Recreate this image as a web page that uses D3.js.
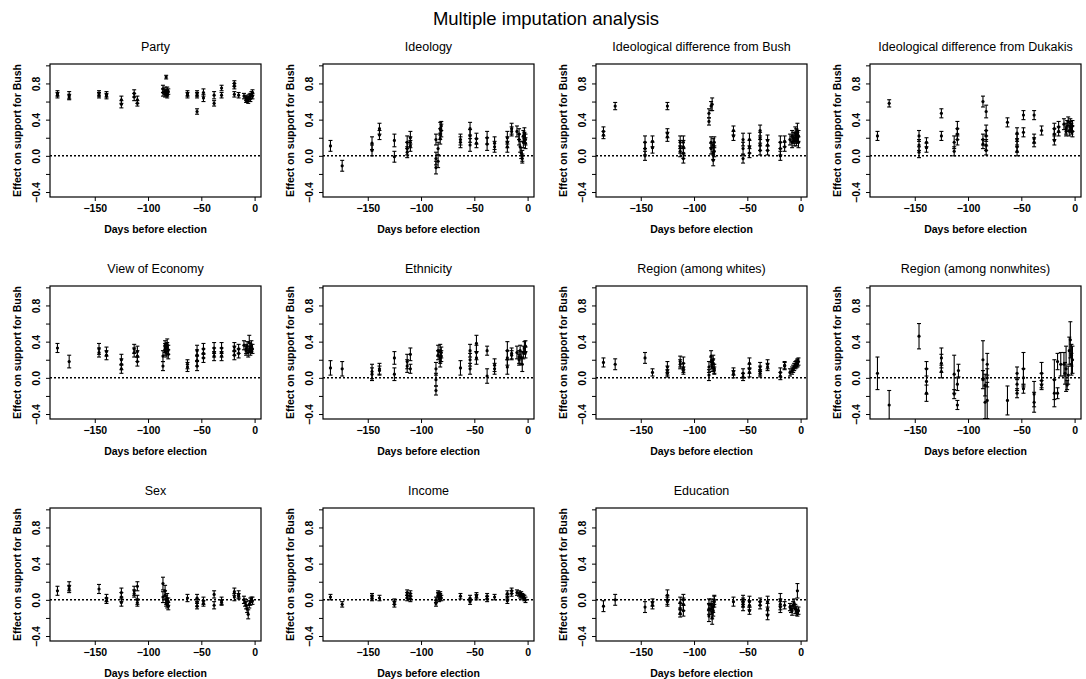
<!DOCTYPE html>
<html>
<head>
<meta charset="utf-8">
<script src="https://cdn.jsdelivr.net/npm/d3@7"></script>
<style>
  html, body { margin: 0; padding: 0; background: #fff; }
  svg { display: block; font-family: "Liberation Sans", Arial, Helvetica, sans-serif; }
</style>
</head>
<body>
<svg id="chart" width="1086" height="679"></svg>
<script>
// ---------------- DATA ----------------
const mainTitle = "Multiple imputation analysis";
const panelTitles = ["Party", "Ideology", "Ideological difference from Bush", "Ideological difference from Dukakis",
  "View of Economy", "Ethnicity", "Region (among whites)", "Region (among nonwhites)",
  "Sex", "Income", "Education"];
const xLabel = "Days before election";
const yLabel = "Effect on support for Bush";
const xTicks = [-150, -100, -50, 0];
const yTicks = [-0.4, 0.0, 0.4, 0.8];
const yMinorTicks = [-0.4, -0.2, 0.0, 0.2, 0.4, 0.6, 0.8, 1.0];

// each entry: [days before election, estimate, half-width of interval]
const party = [
[-185,0.69,0.03],[-185,0.67,0.03],[-174,0.67,0.04],[-174,0.65,0.03],
[-146,0.69,0.03],[-146,0.67,0.03],[-139,0.68,0.03],[-139,0.66,0.03],
[-125,0.62,0.04],[-125,0.57,0.04],[-113,0.69,0.04],[-113,0.65,0.04],
[-110,0.62,0.04],[-110,0.58,0.03],[-86,0.74,0.04],[-86,0.70,0.04],
[-84,0.72,0.04],[-84,0.68,0.03],[-83,0.87,0.02],[-82,0.73,0.03],[-82,0.69,0.03],[-82,0.67,0.03],[-81,0.71,0.03],
[-63,0.69,0.03],[-63,0.67,0.03],[-54,0.69,0.03],[-54,0.67,0.03],[-54,0.49,0.03],
[-48,0.70,0.04],[-48,0.64,0.04],[-38,0.67,0.04],[-38,0.58,0.03],
[-31,0.75,0.03],[-31,0.67,0.03],[-19,0.80,0.03],[-19,0.77,0.03],[-19,0.68,0.03],[-15,0.67,0.03],
[-10,0.66,0.03],[-8,0.64,0.03],[-8,0.62,0.03],[-7,0.63,0.03],[-6,0.61,0.03],[-5,0.65,0.03],
[-4,0.66,0.03],[-4,0.63,0.03],[-3,0.68,0.03],[-2,0.70,0.03],[-2,0.66,0.03]];

const ideology = [
[-185,0.11,0.06],[-174,-0.11,0.06],[-146,0.14,0.07],[-146,0.06,0.06],
[-139,0.30,0.06],[-139,0.23,0.05],[-125,0.17,0.07],[-125,-0.01,0.06],
[-113,0.15,0.07],[-113,0.08,0.07],[-113,0.04,0.06],[-110,0.20,0.07],[-110,0.15,0.06],[-110,0.11,0.06],
[-86,0.18,0.06],[-86,-0.03,0.07],[-86,-0.13,0.07],[-84,0.08,0.07],[-84,-0.06,0.07],
[-82,0.30,0.07],[-82,0.24,0.06],[-82,0.19,0.06],[-81,0.28,0.07],[-81,0.33,0.05],
[-63,0.18,0.06],[-63,0.15,0.06],[-54,0.30,0.07],[-54,0.22,0.07],[-54,0.12,0.07],
[-48,0.19,0.06],[-48,0.14,0.05],[-38,0.20,0.07],[-38,0.13,0.07],[-31,0.14,0.07],[-31,0.10,0.06],
[-19,0.20,0.07],[-19,0.15,0.06],[-19,0.10,0.06],[-15,0.30,0.06],[-15,0.27,0.05],
[-10,0.27,0.06],[-8,0.24,0.06],[-8,0.18,0.06],[-7,0.10,0.06],[-6,0.03,0.06],[-5,0.00,0.06],[-5,-0.03,0.05],
[-4,0.15,0.06],[-4,0.22,0.06],[-3,0.20,0.06],[-3,0.25,0.06],[-2,0.18,0.06],[-2,0.14,0.06]];

const bushDiff = [
[-185,0.27,0.05],[-185,0.23,0.04],[-174,0.55,0.04],
[-146,0.15,0.07],[-146,0.08,0.07],[-146,0.00,0.05],[-139,0.16,0.06],[-139,0.09,0.06],
[-125,0.55,0.04],[-125,0.25,0.05],[-125,0.21,0.05],
[-113,0.15,0.07],[-113,0.10,0.07],[-113,0.05,0.06],[-110,0.15,0.07],[-110,0.10,0.07],[-110,0.03,0.06],[-110,-0.03,0.05],
[-86,0.47,0.05],[-86,0.38,0.04],[-84,0.55,0.05],[-83,0.57,0.07],[-84,0.15,0.06],[-84,0.08,0.06],
[-82,0.12,0.07],[-82,0.03,0.07],[-82,-0.05,0.06],[-81,0.15,0.06],[-81,0.05,0.06],
[-63,0.28,0.05],[-63,0.22,0.05],[-54,0.18,0.07],[-54,0.08,0.07],[-54,-0.03,0.05],
[-48,0.18,0.07],[-48,0.10,0.07],[-48,0.03,0.05],[-38,0.28,0.06],[-38,0.20,0.06],[-38,0.12,0.06],[-38,0.06,0.05],
[-31,0.17,0.06],[-31,0.12,0.06],[-31,0.06,0.05],[-19,0.15,0.07],[-19,0.08,0.07],[-19,0.00,0.05],
[-15,0.16,0.06],[-15,0.10,0.05],[-10,0.18,0.06],[-8,0.22,0.06],[-8,0.15,0.06],[-7,0.20,0.06],[-6,0.17,0.06],
[-5,0.25,0.07],[-5,0.20,0.06],[-4,0.23,0.07],[-4,0.17,0.06],[-3,0.28,0.08],[-3,0.20,0.06],[-2,0.22,0.06],[-2,0.15,0.06]];

const dukakisDiff = [
[-185,0.22,0.05],[-174,0.58,0.04],[-146,0.22,0.06],[-146,0.12,0.06],[-146,0.04,0.06],
[-139,0.15,0.05],[-139,0.09,0.05],[-125,0.47,0.05],[-125,0.22,0.05],
[-113,0.15,0.07],[-113,0.05,0.05],[-110,0.30,0.08],[-110,0.24,0.06],[-110,0.18,0.06],
[-86,0.60,0.06],[-86,0.18,0.06],[-86,0.13,0.05],
[-83,0.49,0.07],[-83,0.28,0.06],[-83,0.22,0.06],[-83,0.12,0.06],[-83,0.06,0.05],
[-63,0.37,0.05],[-54,0.25,0.06],[-54,0.18,0.06],[-54,0.10,0.06],[-54,0.05,0.05],
[-48,0.45,0.05],[-48,0.26,0.05],[-38,0.45,0.05],[-38,0.19,0.05],[-38,0.15,0.05],[-31,0.28,0.05],
[-19,0.30,0.06],[-19,0.24,0.06],[-19,0.17,0.05],[-15,0.32,0.06],[-15,0.27,0.05],
[-10,0.35,0.06],[-8,0.30,0.06],[-8,0.27,0.05],[-7,0.33,0.06],[-6,0.38,0.05],[-5,0.28,0.06],
[-4,0.32,0.06],[-4,0.36,0.05],[-3,0.30,0.06],[-2,0.33,0.06],[-2,0.27,0.06]];

const economy = [
[-185,0.33,0.05],[-174,0.18,0.07],[-146,0.32,0.06],[-146,0.28,0.05],[-139,0.29,0.05],[-139,0.25,0.05],
[-125,0.20,0.06],[-125,0.15,0.06],[-125,0.10,0.05],[-113,0.32,0.05],[-113,0.28,0.05],
[-110,0.29,0.06],[-110,0.24,0.06],[-110,0.18,0.05],[-86,0.24,0.06],[-86,0.13,0.05],
[-84,0.36,0.05],[-84,0.33,0.05],[-84,0.30,0.05],[-83,0.28,0.05],[-82,0.37,0.06],[-82,0.34,0.05],[-81,0.31,0.05],[-81,0.26,0.05],
[-63,0.15,0.05],[-63,0.12,0.05],[-54,0.30,0.06],[-54,0.25,0.06],[-54,0.19,0.06],[-54,0.13,0.05],
[-48,0.32,0.06],[-48,0.27,0.05],[-48,0.22,0.05],[-38,0.33,0.06],[-38,0.28,0.05],[-38,0.24,0.05],
[-31,0.33,0.06],[-31,0.28,0.05],[-31,0.24,0.05],[-19,0.34,0.05],[-19,0.30,0.05],[-19,0.25,0.05],
[-15,0.32,0.05],[-15,0.27,0.05],[-10,0.36,0.05],[-8,0.32,0.05],[-8,0.30,0.05],[-7,0.35,0.05],[-6,0.28,0.05],
[-5,0.39,0.08],[-4,0.33,0.05],[-4,0.30,0.05],[-3,0.35,0.06],[-2,0.32,0.05]];

const ethnicity = [
[-185,0.11,0.08],[-174,0.10,0.08],[-146,0.07,0.08],[-146,0.04,0.07],[-139,0.10,0.06],[-139,0.08,0.05],
[-125,0.22,0.07],[-125,0.04,0.07],[-113,0.18,0.08],[-113,0.13,0.07],[-110,0.26,0.07],[-110,0.10,0.05],
[-86,0.10,0.07],[-86,-0.02,0.07],[-86,-0.14,0.05],[-84,0.30,0.06],[-84,0.25,0.05],
[-82,0.30,0.07],[-82,0.22,0.06],[-82,0.18,0.06],[-81,0.28,0.06],[-81,0.24,0.06],
[-63,0.11,0.08],[-54,0.30,0.07],[-54,0.20,0.07],[-54,0.10,0.06],
[-48,0.38,0.09],[-48,0.28,0.08],[-48,0.22,0.07],[-38,0.30,0.05],[-38,0.02,0.08],
[-31,0.14,0.07],[-31,0.10,0.06],[-19,0.30,0.10],[-19,0.22,0.08],[-19,0.12,0.08],
[-15,0.27,0.06],[-15,0.25,0.05],[-10,0.28,0.07],[-8,0.23,0.07],[-8,0.20,0.06],[-7,0.30,0.06],
[-6,0.22,0.07],[-5,0.15,0.08],[-4,0.28,0.07],[-3,0.33,0.07],[-2,0.35,0.06],[-2,0.28,0.06]];

const regionWhites = [
[-185,0.17,0.05],[-174,0.15,0.06],[-146,0.22,0.06],[-139,0.06,0.04],
[-125,0.12,0.06],[-125,0.08,0.05],[-125,0.05,0.04],[-113,0.18,0.06],[-113,0.15,0.05],
[-110,0.16,0.07],[-110,0.11,0.05],[-110,0.08,0.04],[-86,0.12,0.06],[-86,0.03,0.06],
[-84,0.24,0.06],[-84,0.18,0.05],[-83,0.15,0.05],[-83,0.12,0.05],[-82,0.20,0.05],[-82,0.16,0.05],[-81,0.10,0.05],[-81,0.08,0.04],
[-63,0.07,0.04],[-63,0.04,0.04],[-54,0.05,0.05],[-54,0.01,0.04],
[-48,0.16,0.06],[-48,0.10,0.05],[-48,0.06,0.05],[-38,0.12,0.05],[-38,0.08,0.05],[-38,0.05,0.04],
[-31,0.15,0.05],[-31,0.12,0.04],[-19,0.06,0.05],[-19,0.02,0.04],[-15,0.14,0.04],[-15,0.13,0.04],
[-10,0.06,0.04],[-8,0.08,0.04],[-7,0.10,0.04],[-6,0.12,0.04],[-5,0.14,0.04],[-4,0.15,0.04],
[-3,0.17,0.04],[-3,0.16,0.04],[-2,0.18,0.04]];

const regionNonwhites = [
[-185,0.05,0.18],[-174,-0.30,0.16],[-146,0.46,0.14],
[-139,0.10,0.08],[-139,-0.04,0.14],[-139,-0.17,0.09],
[-125,0.22,0.11],[-125,0.16,0.10],[-125,0.07,0.07],
[-113,0.04,0.21],[-113,-0.18,0.05],[-110,-0.07,0.07],[-110,-0.30,0.05],[-109,0.08,0.07],
[-86,0.20,0.21],[-86,-0.02,0.10],[-84,-0.08,0.12],[-84,-0.27,0.18],
[-82,0.15,0.12],[-82,0.00,0.10],[-82,-0.25,0.20],
[-63,-0.25,0.16],[-54,0.05,0.07],[-54,-0.07,0.07],[-54,-0.17,0.05],
[-48,0.10,0.18],[-48,0.00,0.10],[-48,-0.12,0.05],[-38,-0.18,0.14],[-38,-0.27,0.11],
[-31,0.05,0.12],[-31,-0.03,0.08],[-31,-0.08,0.05],[-19,-0.02,0.22],[-19,-0.17,0.15],
[-16,0.18,0.09],[-16,-0.17,0.06],[-13,0.15,0.13],
[-10,0.15,0.13],[-9,0.05,0.12],[-8,0.10,0.25],[-7,-0.08,0.05],[-6,0.03,0.10],
[-5,0.30,0.15],[-4,0.42,0.20],[-3,0.25,0.12],[-3,0.15,0.12],[-2,0.20,0.15]];

const sex = [
[-185,0.10,0.05],[-174,0.15,0.05],[-174,0.12,0.04],[-146,0.12,0.05],[-139,0.02,0.04],[-139,-0.01,0.03],
[-125,0.08,0.05],[-125,0.03,0.05],[-125,-0.03,0.04],[-113,0.10,0.05],[-113,0.07,0.04],
[-110,0.15,0.05],[-110,0.00,0.05],[-110,-0.03,0.04],[-86,0.18,0.07],[-86,0.03,0.06],
[-84,0.10,0.06],[-84,0.05,0.05],[-83,0.00,0.05],[-83,-0.03,0.04],[-82,-0.05,0.04],[-82,0.02,0.05],[-81,-0.07,0.04],[-81,-0.02,0.04],
[-63,0.02,0.04],[-54,0.02,0.04],[-54,-0.03,0.04],[-54,-0.07,0.03],[-48,-0.01,0.04],[-48,-0.04,0.03],
[-38,0.06,0.04],[-38,-0.06,0.04],[-31,-0.01,0.04],[-31,-0.03,0.03],[-19,0.09,0.04],[-19,0.03,0.04],
[-15,0.06,0.04],[-15,0.04,0.03],[-10,0.00,0.04],[-9,-0.03,0.04],[-8,-0.06,0.04],[-7,-0.10,0.04],
[-6,-0.16,0.05],[-5,-0.05,0.04],[-4,-0.02,0.04],[-3,0.00,0.03],[-2,-0.01,0.04]];

const income = [
[-185,0.03,0.03],[-174,-0.05,0.03],[-146,0.04,0.03],[-146,0.02,0.03],[-139,0.02,0.03],
[-125,-0.02,0.03],[-125,-0.05,0.03],[-113,0.08,0.03],[-113,0.05,0.03],[-113,0.02,0.03],
[-110,0.07,0.03],[-110,0.04,0.03],[-110,0.01,0.03],[-86,0.00,0.03],[-86,-0.04,0.03],
[-84,0.07,0.03],[-84,0.05,0.03],[-83,0.03,0.03],[-83,0.01,0.03],[-82,0.06,0.03],[-82,0.04,0.03],[-81,0.02,0.03],
[-63,0.04,0.03],[-54,0.02,0.03],[-54,-0.02,0.03],[-48,0.05,0.03],[-48,0.03,0.03],
[-38,0.04,0.03],[-38,0.01,0.03],[-31,0.03,0.03],[-19,0.07,0.03],[-19,0.03,0.03],[-19,-0.01,0.03],
[-15,0.10,0.03],[-15,0.07,0.03],[-10,0.08,0.03],[-8,0.07,0.03],[-7,0.05,0.03],[-6,0.06,0.03],
[-5,0.04,0.03],[-4,0.03,0.03],[-3,0.02,0.03],[-2,0.00,0.03]];

const education = [
[-185,-0.07,0.06],[-174,0.00,0.06],[-146,-0.08,0.06],[-139,-0.03,0.04],[-139,-0.06,0.04],
[-125,0.05,0.06],[-125,0.00,0.05],[-125,-0.02,0.05],[-113,-0.03,0.06],[-113,-0.10,0.06],[-113,-0.15,0.04],
[-110,-0.05,0.07],[-110,0.00,0.06],[-110,-0.12,0.06],[-86,-0.05,0.06],[-86,-0.10,0.06],[-86,-0.18,0.06],
[-84,-0.05,0.06],[-84,-0.10,0.06],[-83,-0.14,0.07],[-83,-0.20,0.07],[-82,-0.08,0.06],[-82,-0.12,0.06],[-81,-0.02,0.06],[-81,0.00,0.05],
[-63,-0.02,0.05],[-54,0.00,0.05],[-54,-0.03,0.05],[-54,-0.07,0.05],[-48,-0.02,0.06],[-48,-0.06,0.05],[-48,-0.12,0.04],
[-38,-0.02,0.04],[-38,-0.06,0.04],[-31,-0.02,0.06],[-31,-0.10,0.06],[-31,-0.17,0.05],
[-19,0.00,0.07],[-19,-0.05,0.06],[-19,-0.08,0.06],[-15,-0.06,0.04],
[-10,-0.08,0.04],[-9,-0.10,0.04],[-8,-0.12,0.05],[-7,-0.06,0.04],[-6,-0.04,0.05],[-5,-0.10,0.05],
[-4,-0.12,0.05],[-3,0.10,0.08],[-3,-0.14,0.04],[-2,-0.12,0.04]];

const panelData = [party, ideology, bushDiff, dukakisDiff, economy, ethnicity, regionWhites, regionNonwhites, sex, income, education];

// ---------------- LAYOUT ----------------
const svg = d3.select("#chart");
const colLeft = [50, 323, 596, 870];
const rowTop = [64, 286, 508];
const pw = 211, ph = 133;

const x = d3.scaleLinear().domain([-192, 6]).range([0, pw]);
const y = d3.scaleLinear().domain([-0.455, 1.015]).range([ph, 0]);

svg.append("text")
  .attr("x", 546).attr("y", 25)
  .attr("text-anchor", "middle")
  .attr("font-size", 18.5)
  .text(mainTitle);

const defs = svg.append("defs");
defs.append("clipPath").attr("id", "plotclip")
  .append("rect").attr("x", 0).attr("y", 0).attr("width", pw).attr("height", ph);

panelData.forEach((data, i) => {
  const col = i % 4, row = Math.floor(i / 4);
  const g = svg.append("g").attr("transform", `translate(${colLeft[col]},${rowTop[row]})`);

  // title
  g.append("text").attr("x", pw / 2).attr("y", -13)
    .attr("text-anchor", "middle").attr("font-size", 12.5)
    .text(panelTitles[i]);

  // frame
  g.append("rect").attr("x", 0).attr("y", 0).attr("width", pw).attr("height", ph)
    .attr("fill", "none").attr("stroke", "#000").attr("stroke-width", 1.2);

  // x axis
  const xa = g.append("g").attr("transform", `translate(0,${ph})`)
    .call(d3.axisBottom(x).tickValues(xTicks).tickSize(4).tickPadding(4).tickFormat(d3.format("d")));
  xa.select(".domain").remove();
  xa.selectAll("text").attr("font-size", 10.5).attr("font-weight", "bold").attr("fill", "#000")
    .attr("font-family", "'Liberation Sans', Arial, sans-serif");
  xa.selectAll("line").attr("stroke", "#000");

  // y axis minor ticks
  const ym = g.append("g").call(d3.axisLeft(y).tickValues(yMinorTicks).tickSize(4).tickFormat(""));
  ym.select(".domain").remove();
  ym.selectAll("line").attr("stroke", "#000");

  // y axis labels (rotated, parallel to axis)
  const ya = g.append("g").call(d3.axisLeft(y).tickValues(yTicks).tickSize(0).tickPadding(0).tickFormat(d3.format(".1f")));
  ya.select(".domain").remove();
  ya.selectAll(".tick text")
    .attr("x", null).attr("dy", null)
    .attr("text-anchor", "middle")
    .attr("transform", "translate(-10,0) rotate(-90)")
    .attr("font-size", 10.5).attr("font-weight", "bold").attr("fill", "#000")
    .attr("font-family", "'Liberation Sans', Arial, sans-serif");

  // axis titles
  g.append("text").attr("x", pw / 2).attr("y", ph + 36)
    .attr("text-anchor", "middle").attr("font-size", 10.5).attr("font-weight", "bold")
    .text(xLabel);
  g.append("text")
    .attr("transform", `translate(-29,${ph / 2}) rotate(-90)`)
    .attr("text-anchor", "middle").attr("font-size", 10.5).attr("font-weight", "bold")
    .text(yLabel);

  // zero reference line
  g.append("line").attr("x1", 0).attr("x2", pw).attr("y1", y(0)).attr("y2", y(0))
    .attr("stroke", "#000").attr("stroke-width", 1.5).attr("stroke-dasharray", "2,2");

  // marks
  const marks = g.append("g").attr("clip-path", "url(#plotclip)");
  const pts = marks.selectAll("g.pt").data(data).join("g").attr("class", "pt");
  pts.append("line")
    .attr("x1", d => x(d[0])).attr("x2", d => x(d[0]))
    .attr("y1", d => y(d[1] - d[2])).attr("y2", d => y(d[1] + d[2]))
    .attr("stroke", "#000").attr("stroke-width", 1.1);
  pts.append("line")
    .attr("x1", d => x(d[0]) - 2).attr("x2", d => x(d[0]) + 2)
    .attr("y1", d => y(d[1] + d[2])).attr("y2", d => y(d[1] + d[2]))
    .attr("stroke", "#000").attr("stroke-width", 1.1);
  pts.append("line")
    .attr("x1", d => x(d[0]) - 2).attr("x2", d => x(d[0]) + 2)
    .attr("y1", d => y(d[1] - d[2])).attr("y2", d => y(d[1] - d[2]))
    .attr("stroke", "#000").attr("stroke-width", 1.1);
  pts.append("circle")
    .attr("cx", d => x(d[0])).attr("cy", d => y(d[1])).attr("r", 1.6)
    .attr("fill", "#000");
});
</script>
</body>
</html>
